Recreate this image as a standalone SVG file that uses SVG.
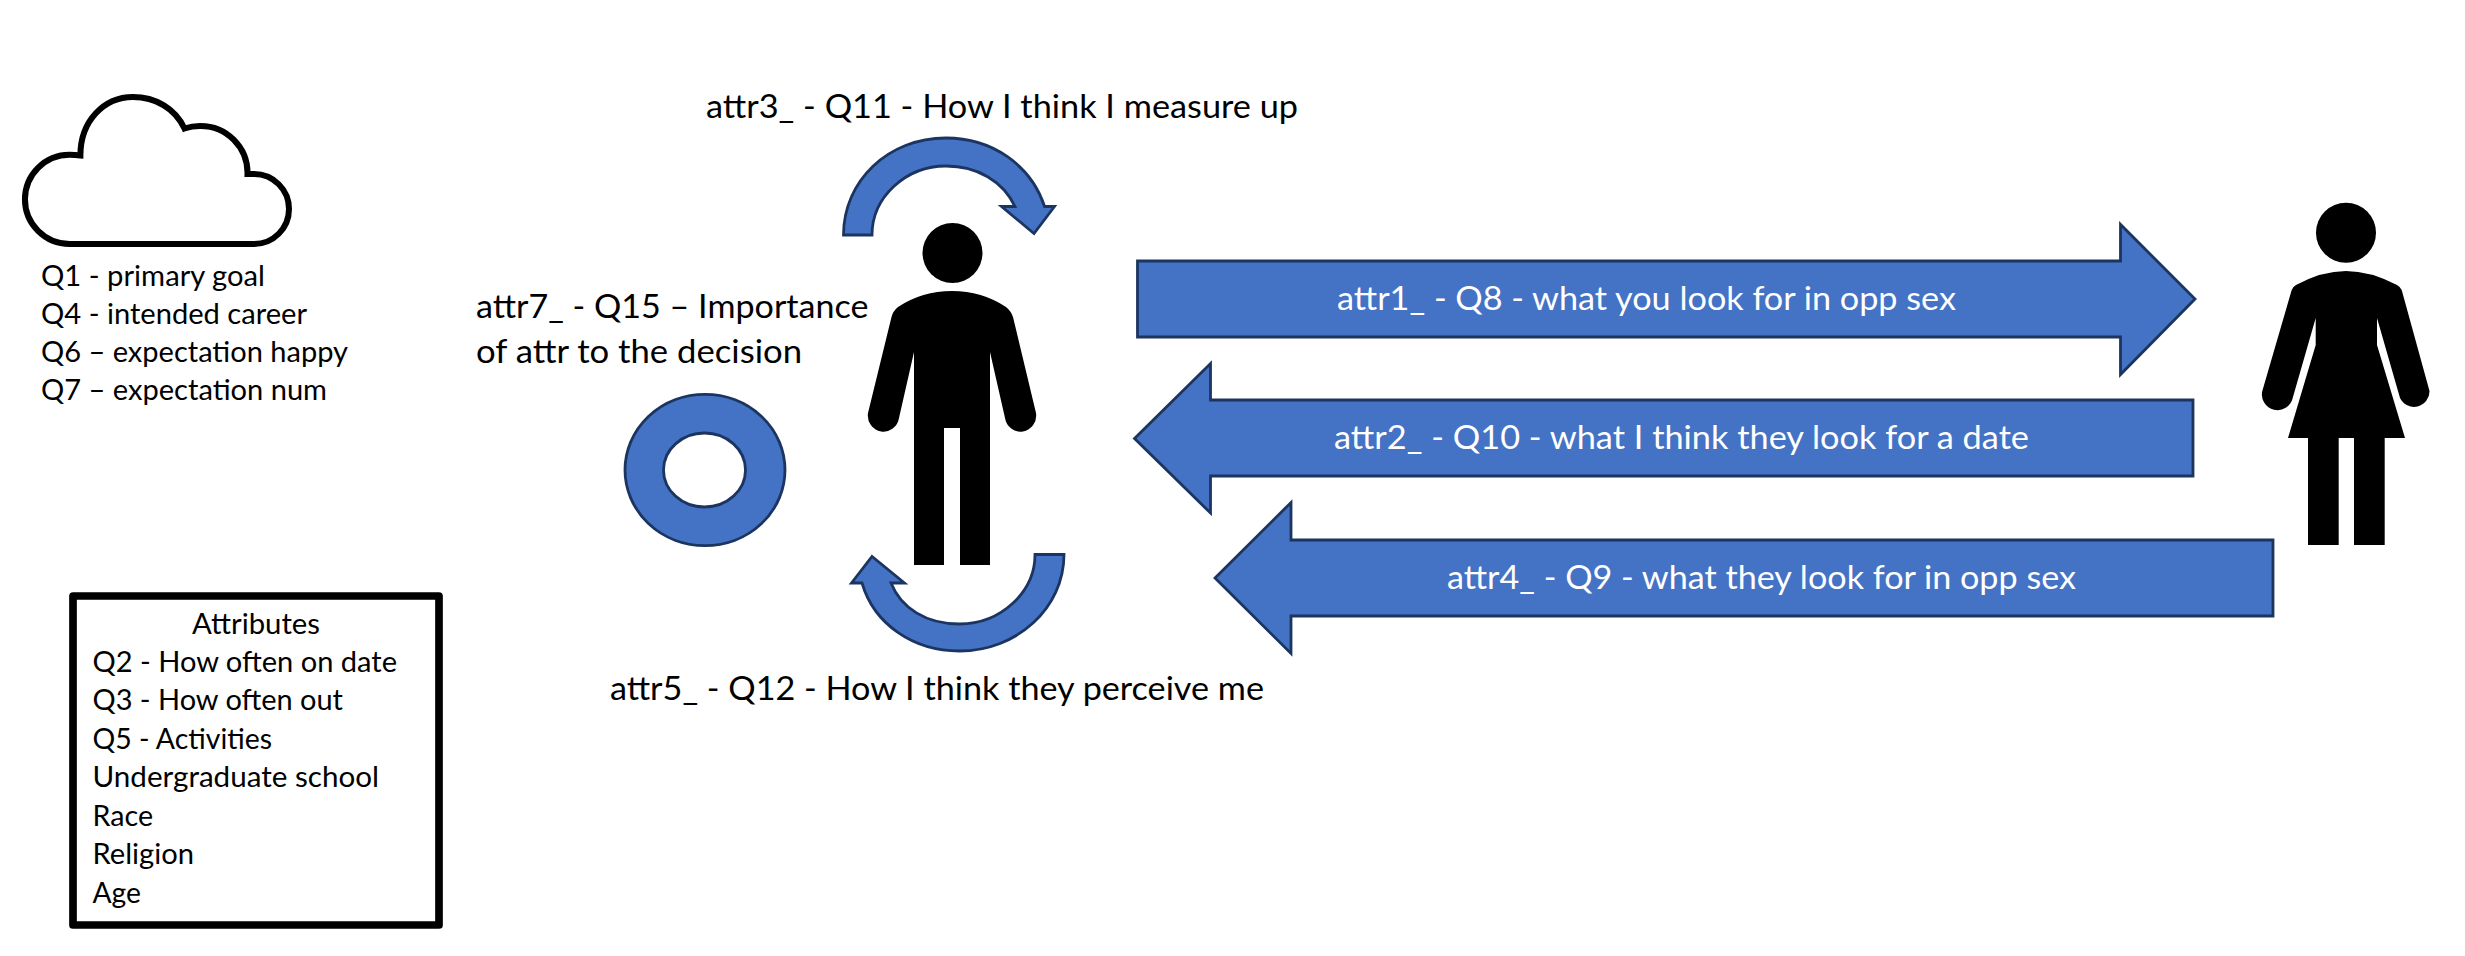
<svg xmlns="http://www.w3.org/2000/svg" width="2465" height="956" viewBox="0 0 2465 956">
<style>
text{font-family:"Lato","Carlito","Open Sans",sans-serif;fill:#000}
.s{font-size:29px}
.b{font-size:33.5px}
.w{font-size:33.5px;fill:#fff}
.blue{fill:#4472C4;stroke:#1B3560;stroke-width:2.8;stroke-linejoin:miter}
.fig{fill:#000}
</style>
<rect width="2465" height="956" fill="#fff"/>
<g id="cloud">
<path d="M69.600 244A44.600 44.600 0 0 1 69.600 154.700Q75 154.700 80.400 155.400C80.400 121 104 97 133 97C155 97 175 108 184.500 128.500Q192 126 200 126A47 47 0 0 1 247.500 174H254A35 35 0 0 1 254 244Z" fill="#fff" stroke="#000" stroke-width="6" stroke-linejoin="miter"/>
<g class="labels">
<text class="s" x="41" y="285.500" textLength="224" lengthAdjust="spacingAndGlyphs">Q1 - primary goal</text>
<text class="s" x="41" y="323.500" textLength="266" lengthAdjust="spacingAndGlyphs">Q4 - intended career</text>
<text class="s" x="41" y="361.500" textLength="307" lengthAdjust="spacingAndGlyphs">Q6 – expectation happy</text>
<text class="s" x="41" y="400" textLength="286" lengthAdjust="spacingAndGlyphs">Q7 – expectation num</text>
</g>
</g>
<g id="attributes">
<rect x="73" y="596" width="366" height="329" fill="#fff" stroke="#000" stroke-width="7.700" stroke-linejoin="round"/>
<text class="s" x="192" y="633.500" textLength="128" lengthAdjust="spacingAndGlyphs">Attributes</text>
<text class="s" x="92.500" y="672" textLength="304.500" lengthAdjust="spacingAndGlyphs">Q2 - How often on date</text>
<text class="s" x="92.500" y="710.300" textLength="250.500" lengthAdjust="spacingAndGlyphs">Q3 - How often out</text>
<text class="s" x="92.500" y="749" textLength="179.500" lengthAdjust="spacingAndGlyphs">Q5 - Activities</text>
<text class="s" x="92.500" y="787.300" textLength="286.500" lengthAdjust="spacingAndGlyphs">Undergraduate school</text>
<text class="s" x="92.500" y="826" textLength="60.500" lengthAdjust="spacingAndGlyphs">Race</text>
<text class="s" x="92.500" y="864.300" textLength="101.500" lengthAdjust="spacingAndGlyphs">Religion</text>
<text class="s" x="92.500" y="902.500" textLength="48.500" lengthAdjust="spacingAndGlyphs">Age</text>
</g>
<g id="man">
<circle class="fig" cx="952.500" cy="253" r="30"/>
<path class="fig" d="M891.500 317Q893 311 898 307Q922 291 952 291Q982 291 1006 307Q1011 311 1013 317L1036 413A15.500 16 0 0 1 1005 418L990 352V565H960V428H944V565H914V352L899 418A15.500 16 0 0 1 868 413Z"/>
</g>
<g id="woman">
<circle class="fig" cx="2346" cy="232.700" r="30"/>
<path class="fig" d="M2291.700 290Q2292.500 287 2296 285Q2322 271 2346 271Q2370 271 2397 285Q2400.500 287 2401.700 290L2429.500 391A15.500 15.500 0 0 1 2400 398L2377 318V345L2405 438H2384.700V545H2354V438H2338.700V545H2308V438H2288L2315.700 345V318L2292.700 398A15.500 15.500 0 0 1 2262.300 391Z"/>
</g>
<g id="self-measure">
<path class="blue" d="M843.500 235H872C872 197 906 166 946 166C977 166 1003 181 1015 206.500H1001.500L1034 233.500L1054.500 206.500H1044.600C1031 165 992 138 946 138C888 138 843.500 181 843.500 235Z"/>
<text class="b" x="706" y="118" textLength="592" lengthAdjust="spacingAndGlyphs">attr3_ - Q11 - How I think I measure up</text>
</g>
<g id="self-perceive">
<path class="blue" d="M1064 554.500H1035C1035 592 1001 624 959.500 624C926 624 901 608 891 583H904.500L872 556.500L851.500 583H862C874 624 913 651 959.500 651C1017 651 1064 608 1064 554.500Z"/>
<text class="b" x="610" y="700" textLength="654" lengthAdjust="spacingAndGlyphs">attr5_ - Q12 - How I think they perceive me</text>
</g>
<g id="importance">
<path class="blue" fill-rule="evenodd" d="M625 470A80 75.700 0 1 1 785 470A80 75.700 0 1 1 625 470ZM663.500 470A41 37 0 1 0 745.500 470A41 37 0 1 0 663.500 470Z"/>
<text class="b" x="476" y="318" textLength="392.500" lengthAdjust="spacingAndGlyphs">attr7_ - Q15 – Importance</text>
<text class="b" x="476" y="362.700" textLength="326" lengthAdjust="spacingAndGlyphs">of attr to the decision</text>
</g>
<g id="connectors">
<g id="arrow-attr1">
<path class="blue" d="M1137.500 261H2120.500V224.500L2195 299L2120.500 374.500V337H1137.500Z"/>
<text class="w" x="1337" y="310" textLength="619" lengthAdjust="spacingAndGlyphs">attr1_ - Q8 - what you look for in opp sex</text>
</g>
<g id="arrow-attr2">
<path class="blue" d="M2193 400H1210.500V363.500L1134.500 438.500L1210.500 513V476H2193Z"/>
<text class="w" x="1334" y="449" textLength="695" lengthAdjust="spacingAndGlyphs">attr2_ - Q10 - what I think they look for a date</text>
</g>
<g id="arrow-attr4">
<path class="blue" d="M2273 540H1291V502.500L1215 578L1291 653.500V616H2273Z"/>
<text class="w" x="1447" y="589" textLength="629" lengthAdjust="spacingAndGlyphs">attr4_ - Q9 - what they look for in opp sex</text>
</g>
</g>
</svg>
